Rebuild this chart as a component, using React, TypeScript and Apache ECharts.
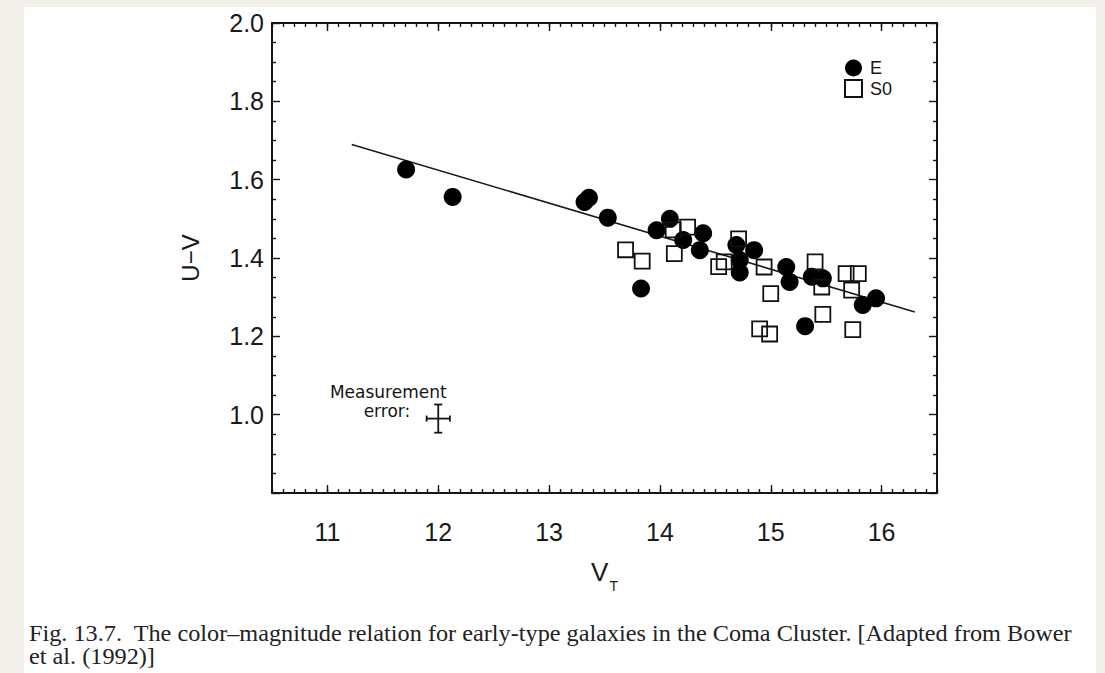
import React, { useEffect, useRef } from "react";
import * as echarts from "echarts";

// Axis tick labels
const vtTicks = [11, 12, 13, 14, 15, 16];
const uvTicks = [1.0, 1.2, 1.4, 1.6, 1.8, 2.0];

// Elliptical galaxies (E): V_T magnitude and U−V colour
const ellipticalVT = [11.71, 12.13, 13.32, 13.36, 13.53, 13.83, 13.97, 14.09, 14.21, 14.36, 14.39, 14.69, 14.72, 14.72, 14.85, 15.14, 15.17, 15.31, 15.37, 15.47, 15.83, 15.95];
const ellipticalUV = [1.626, 1.556, 1.543, 1.554, 1.503, 1.322, 1.471, 1.5, 1.446, 1.42, 1.463, 1.433, 1.395, 1.363, 1.42, 1.377, 1.339, 1.226, 1.352, 1.348, 1.28, 1.297];

// Lenticular galaxies (S0)
const s0VT = [13.69, 13.84, 14.12, 14.13, 14.25, 14.53, 14.58, 14.71, 14.9, 14.94, 14.99, 15.0, 15.4, 15.46, 15.47, 15.68, 15.73, 15.79, 15.74];
const s0UV = [1.421, 1.392, 1.472, 1.411, 1.479, 1.378, 1.39, 1.449, 1.219, 1.377, 1.206, 1.309, 1.39, 1.326, 1.256, 1.36, 1.318, 1.36, 1.217];

// Fitted colour–magnitude relation (end points)
const fitVT = [11.22, 16.3];
const fitUV = [1.69, 1.262];

// Typical measurement error: centre and half-widths
const errorCentre = [12.0, 0.99];
const errorHalfVT = 0.105;
const errorHalfUV = 0.036;

const captionLines = [
  "Fig. 13.7.  The color–magnitude relation for early-type galaxies in the Coma Cluster. [Adapted from Bower",
  "et al. (1992)]",
];

const ink = "#151515";
const sans = "'Liberation Sans', Arial, sans-serif";

export default function App() {
  const ref = useRef<HTMLDivElement>(null);

  useEffect(() => {
    document.body.style.margin = "0";
    if (!ref.current) return;
    const chart = echarts.init(ref.current, undefined, { renderer: "svg" });

    const xBase = {
      type: "value",
      min: 10.5,
      max: 16.5,
      gridIndex: 0,
      splitLine: { show: false },
    };
    const tickLine = { color: ink, width: 1.4 };

    const option: any = {
      animation: false,
      backgroundColor: "#f2efe8",
      grid: { left: 272, top: 23, width: 665, height: 470 },
      legend: {
        data: ["E", "S0"],
        orient: "vertical",
        left: 839,
        top: 54,
        itemWidth: 17,
        itemHeight: 17,
        itemGap: 2,
        textStyle: { fontSize: 18, color: ink, fontFamily: sans, padding: [0, 0, 0, 3] },
      },
      xAxis: [
        {
          ...xBase,
          position: "bottom",
          interval: 0.1,
          axisLine: { show: true, onZero: false, lineStyle: { color: ink, width: 2 } },
          axisTick: { show: true, inside: true, length: 4, lineStyle: tickLine },
          axisLabel: { customValues: vtTicks, margin: 26, fontSize: 25, color: "#1a1a1a", fontFamily: sans },
          name: "{v|V}{t|T}",
          nameLocation: "middle",
          nameGap: 66,
          nameTextStyle: {
            rich: {
              v: { fontSize: 26, lineHeight: 26, verticalAlign: "top", color: "#1a1a1a", fontFamily: sans },
              t: { fontSize: 14, lineHeight: 14, verticalAlign: "top", padding: [20, 0, 0, 1], color: "#1a1a1a", fontFamily: sans },
            },
          },
        },
        {
          ...xBase,
          position: "bottom",
          axisLine: { show: false, onZero: false },
          axisTick: { show: true, inside: true, length: 8, customValues: vtTicks, lineStyle: tickLine },
          axisLabel: { show: false },
        },
        {
          ...xBase,
          position: "top",
          interval: 0.1,
          axisLine: { show: true, onZero: false, lineStyle: { color: ink, width: 2 } },
          axisTick: { show: true, inside: true, length: 4, lineStyle: tickLine },
          axisLabel: { show: false },
        },
        {
          ...xBase,
          position: "top",
          axisLine: { show: false, onZero: false },
          axisTick: { show: true, inside: true, length: 8, customValues: vtTicks, lineStyle: tickLine },
          axisLabel: { show: false },
        },
      ],
      yAxis: [
        {
          type: "value",
          position: "left",
          min: 0.8,
          max: 2.0,
          interval: 0.2,
          splitLine: { show: false },
          axisLine: { show: true, onZero: false, lineStyle: { color: ink, width: 2 } },
          axisTick: { show: true, inside: true, length: 8, lineStyle: tickLine },
          minorTick: { show: true, splitNumber: 4, length: 4, lineStyle: tickLine },
          axisLabel: {
            customValues: uvTicks,
            formatter: (v: number) => v.toFixed(1),
            margin: 8,
            fontSize: 25,
            color: "#1a1a1a",
            fontFamily: sans,
          },
          name: "U−V",
          nameLocation: "middle",
          nameGap: 70,
          nameTextStyle: { fontSize: 24, color: "#1a1a1a", fontFamily: sans },
        },
        {
          type: "value",
          position: "right",
          min: 0.8,
          max: 2.0,
          interval: 0.2,
          splitLine: { show: false },
          axisLine: { show: true, onZero: false, lineStyle: { color: ink, width: 2 } },
          axisTick: { show: true, inside: true, length: 8, lineStyle: tickLine },
          minorTick: { show: true, splitNumber: 4, length: 4, lineStyle: tickLine },
          axisLabel: { show: false },
        },
      ],
      series: [
        {
          name: "fit",
          type: "line",
          data: fitVT.map((v, i) => [v, fitUV[i]]),
          showSymbol: false,
          symbol: "none",
          lineStyle: { color: "#1a1a1a", width: 1.6 },
          z: 1,
        },
        {
          name: "E",
          type: "scatter",
          symbol: "circle",
          symbolSize: 18,
          data: ellipticalVT.map((v, i) => [v, ellipticalUV[i]]),
          itemStyle: { color: "#000", opacity: 1 },
          z: 2,
        },
        {
          name: "S0",
          type: "scatter",
          symbol: "rect",
          symbolSize: 15,
          data: s0VT.map((v, i) => [v, s0UV[i]]),
          itemStyle: { color: "rgba(255,255,255,0)", borderColor: "#111", borderWidth: 1.8, opacity: 1 },
          z: 3,
        },
        {
          name: "error",
          type: "custom",
          data: [[errorCentre[0], errorCentre[1], errorHalfVT, errorHalfUV]],
          renderItem: (_params: any, api: any) => {
            const x = api.value(0);
            const y = api.value(1);
            const dx = api.value(2);
            const dy = api.value(3);
            const c = api.coord([x, y]);
            const l = api.coord([x - dx, y]);
            const r = api.coord([x + dx, y]);
            const t = api.coord([x, y + dy]);
            const b = api.coord([x, y - dy]);
            const st = { stroke: ink, lineWidth: 1.8 };
            const cap = 4;
            return {
              type: "group",
              children: [
                { type: "line", shape: { x1: t[0], y1: t[1], x2: b[0], y2: b[1] }, style: st },
                { type: "line", shape: { x1: l[0], y1: l[1], x2: r[0], y2: r[1] }, style: st },
                { type: "line", shape: { x1: t[0] - cap, y1: t[1], x2: t[0] + cap, y2: t[1] }, style: st },
                { type: "line", shape: { x1: b[0] - cap, y1: b[1], x2: b[0] + cap, y2: b[1] }, style: st },
                { type: "line", shape: { x1: l[0], y1: l[1] - 3, x2: l[0], y2: l[1] + 3 }, style: st },
                { type: "line", shape: { x1: r[0], y1: r[1] - 3, x2: r[0], y2: r[1] + 3 }, style: st },
                {
                  type: "text",
                  x: c[0] - 50,
                  y: c[1] - 27,
                  style: { text: "Measurement", fontSize: 17, fontFamily: "'DejaVu Sans', sans-serif", fill: ink, align: "center", verticalAlign: "middle" },
                },
                {
                  type: "text",
                  x: c[0] - 28,
                  y: c[1] - 8,
                  style: { text: "error:", fontSize: 17, fontFamily: "'DejaVu Sans', sans-serif", fill: ink, align: "right", verticalAlign: "middle" },
                },
              ],
            };
          },
          z: 3,
        },
      ],
      graphic: [
        {
          type: "rect",
          silent: true,
          z: -10,
          shape: { x: 24, y: 7, width: 1072, height: 700 },
          style: { fill: "#ffffff" },
        },
        ...captionLines.map((line, i) => ({
          type: "text",
          x: 29,
          y: 633 + i * 23,
          scaleX: 1.055,
          style: {
            text: line,
            fontSize: 23,
            fontFamily: "'Liberation Serif', 'Times New Roman', serif",
            fill: "#222",
            verticalAlign: "middle",
          },
        })),
      ],
    };

    chart.setOption(option);
    return () => chart.dispose();
  }, []);

  return <div ref={ref} style={{ width: 1105, height: 673 }} />;
}
